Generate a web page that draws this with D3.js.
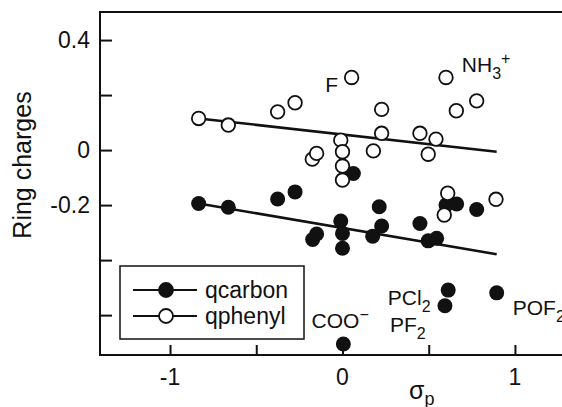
<!DOCTYPE html>
<html>
<head>
<meta charset="utf-8">
<script src="https://cdn.jsdelivr.net/npm/d3@7"></script>
<style>
  body { margin: 0; background: #fff; }
  svg { display: block; font-family: "Liberation Sans", Arial, Helvetica, sans-serif; }
</style>
</head>
<body>
<svg id="chart"></svg>
<script>
// sigma_p values and ring charges
const qphenylX = [-0.834, -0.662, -0.376, -0.275, -0.01, 0, -0.175, -0.15, 0, 0, 0.053,
                  0.227, 0.227, 0.179, 0.449, 0.542, 0.497, 0.6, 0.66, 0.778, 0.61, 0.59, 0.89];
const qphenylY = [0.115, 0.091, 0.139, 0.172, 0.036, -0.006, -0.033, -0.012, -0.058, -0.109, 0.264,
                  0.148, 0.061, -0.003, 0.061, 0.04, -0.015, 0.264, 0.143, 0.179, -0.157, -0.236, -0.179];

const qcarbonX = [-0.834, -0.662, -0.376, -0.275, 0.063, -0.01, 0, 0, -0.173, -0.15, 0.175, 0.213,
                  0.227, 0.449, 0.497, 0.546, 0.6, 0.662, 0.778, 0.005, 0.613, 0.594, 0.894];
const qcarbonY = [-0.194, -0.208, -0.178, -0.152, -0.085, -0.258, -0.303, -0.357, -0.325, -0.305, -0.313, -0.206,
                  -0.276, -0.267, -0.33, -0.321, -0.2, -0.196, -0.216, -0.705, -0.509, -0.566, -0.519];

// regression lines (end points)
const fitX = [-0.834, 0.894];
const qphenylFit = [0.115, -0.006];
const qcarbonFit = [-0.194, -0.379];

const xTicks = [-1, -0.5, 0, 0.5, 1];
const xTickLabels = ["-1", "", "0", "", "1"];
const yTicks = [0.4, 0.2, 0, -0.2, -0.4, -0.6];
const yTickLabels = ["0.4", "", "0", "-0.2", "", ""];

// point labels, anchored in data units
const notes = [
  { x: -0.1, y: 0.212, parts: [["F", ""]] },
  { x: 0.692, y: 0.285, parts: [["NH", ""], ["3", "sub"], ["+", "sup"]] },
  { x: -0.179, y: -0.647, parts: [["COO", ""], ["\u2212", "sup"]] },
  { x: 0.263, y: -0.564, parts: [["PCl", ""], ["2", "sub"]] },
  { x: 0.275, y: -0.662, parts: [["PF", ""], ["2", "sub"]] },
  { x: 0.987, y: -0.6, parts: [["POF", ""], ["2", "sub"]] }
];

function draw() {
  const W = 562, H = 407;
  const svg = d3.select("#chart").attr("width", W).attr("height", H);

  const mLeft = 100, mTop = 12, mBottom = 355, mRight = 640;

  const xscale = d3.scaleLinear().domain([-1.406, 1.725]).range([mLeft, mRight]);
  const yscale = d3.scaleLinear().domain([0.502, -0.745]).range([mTop, mBottom]);

  const ink = "#111";

  // frame (right side falls outside the picture)
  svg.append("path")
    .attr("d", `M${mRight},${mTop}H${mLeft}V${mBottom}H${mRight}`)
    .attr("fill", "none").attr("stroke", ink).attr("stroke-width", 2);

  // axes with inward ticks
  const xaxis = d3.axisTop(xscale).tickValues(xTicks).tickSize(10).tickFormat("");
  const xg = svg.append("g").attr("transform", `translate(0,${mBottom})`).call(xaxis);
  const yaxis = d3.axisRight(yscale).tickValues(yTicks).tickSize(12).tickFormat("");
  const yg = svg.append("g").attr("transform", `translate(${mLeft},0)`).call(yaxis);
  [xg, yg].forEach(g => {
    g.select(".domain").remove();
    g.selectAll("line").attr("stroke", ink).attr("stroke-width", 2);
  });

  svg.selectAll(".xlab")
    .data(xTicks)
    .enter().append("text")
    .attr("x", d => xscale(d))
    .attr("y", 385)
    .attr("text-anchor", "middle")
    .attr("font-size", 23)
    .attr("fill", ink)
    .text((d, i) => xTickLabels[i]);

  svg.selectAll(".ylab")
    .data(yTicks)
    .enter().append("text")
    .attr("x", 90)
    .attr("y", d => yscale(d) + 8)
    .attr("text-anchor", "end")
    .attr("font-size", 23)
    .attr("fill", ink)
    .text((d, i) => yTickLabels[i]);

  // axis titles
  svg.append("text")
    .attr("transform", "translate(31,165) rotate(-90)")
    .attr("text-anchor", "middle")
    .attr("font-size", 25)
    .attr("fill", ink)
    .text("Ring charges");

  const xt = svg.append("text")
    .attr("x", 409).attr("y", 399)
    .attr("font-size", 25)
    .attr("fill", ink);
  xt.append("tspan").text("\u03c3");
  xt.append("tspan").attr("dy", 6).attr("font-size", 18).text("p");

  // regression lines
  const line = d3.line().x(d => xscale(d[0])).y(d => yscale(d[1]));
  [qcarbonFit, qphenylFit].forEach(fit => {
    svg.append("path")
      .datum(fitX.map((x, i) => [x, fit[i]]))
      .attr("d", line)
      .attr("fill", "none")
      .attr("stroke", ink)
      .attr("stroke-width", 2.5);
  });

  // points
  svg.append("g").selectAll("circle")
    .data(qcarbonX.map((x, i) => [x, qcarbonY[i]]))
    .enter().append("circle")
    .attr("cx", d => xscale(d[0]))
    .attr("cy", d => yscale(d[1]))
    .attr("r", 7.5)
    .attr("fill", ink);

  svg.append("g").selectAll("circle")
    .data(qphenylX.map((x, i) => [x, qphenylY[i]]))
    .enter().append("circle")
    .attr("cx", d => xscale(d[0]))
    .attr("cy", d => yscale(d[1]))
    .attr("r", 6.8)
    .attr("fill", "#fff")
    .attr("stroke", ink)
    .attr("stroke-width", 1.8);

  // point labels
  notes.forEach(n => {
    const t = svg.append("text")
      .attr("x", xscale(n.x)).attr("y", yscale(n.y))
      .attr("font-size", 21)
      .attr("fill", ink);
    let shift = 0;
    n.parts.forEach(p => {
      let dy = 0, fs = 21;
      if (p[1] === "sub") { dy = 7 - shift; fs = 16; }
      else if (p[1] === "sup") { dy = -8 - shift; fs = 16; }
      else { dy = -shift; }
      shift += dy;
      t.append("tspan").attr("dy", dy).attr("font-size", fs).text(p[0]);
    });
  });

  // legend
  const lg = svg.append("g").attr("transform", "translate(120,266)");
  lg.append("rect")
    .attr("width", 184).attr("height", 73)
    .attr("fill", "#fff").attr("stroke", ink).attr("stroke-width", 1.5);
  const rows = [
    { name: "qcarbon", fill: ink, y: 24 },
    { name: "qphenyl", fill: "#fff", y: 50 }
  ];
  rows.forEach(r => {
    lg.append("line")
      .attr("x1", 13).attr("x2", 77).attr("y1", r.y).attr("y2", r.y)
      .attr("stroke", ink).attr("stroke-width", 2);
    lg.append("circle")
      .attr("cx", 46).attr("cy", r.y).attr("r", 7)
      .attr("fill", r.fill).attr("stroke", ink).attr("stroke-width", 1.8);
    lg.append("text")
      .attr("x", 85).attr("y", r.y + 8)
      .attr("font-size", 23)
      .attr("fill", ink)
      .text(r.name);
  });
}

draw();
</script>
</body>
</html>
